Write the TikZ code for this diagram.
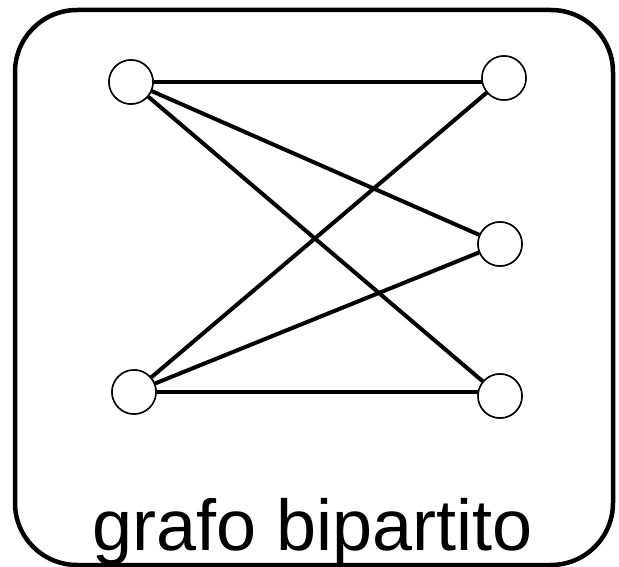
\documentclass[tikz,border=0pt]{standalone}
\usepackage{fontspec}
\setmainfont{Liberation Sans}
\begin{document}
\begin{tikzpicture}[x=1pt,y=-1pt,
        vertex/.style={draw=black, fill=white, circle, line width=1.5pt, minimum size=44pt, inner sep=0pt},
        edge/.style={draw=black, line width=4pt}]
                %%%  Page size as in the picture
                \useasboundingbox (0,0) rectangle (619,567);
                %%%  Outer frame with round corners
                \draw[line width=4.5pt, rounded corners=62pt] (15,10) rectangle (613,565);
                %%%  Vertices: left side, then right side
                \node[vertex] (u1) at (131,82) {};
                \node[vertex] (u2) at (134,392) {};
                \node[vertex] (v1) at (504,78) {};
                \node[vertex] (v2) at (500,244) {};
                \node[vertex] (v3) at (500,396) {};
                %%% Edges (the two long ones are level)
                \draw[edge] (u1) -- (u1 -| v1);
                \draw[edge] (u2) -- (u2 -| v3);
                \foreach \a/\b in {u1/v2, u1/v3, u2/v1, u2/v2}
                    \draw[edge] (\a) -- (\b);
                % Note: draw the vertices again on top of the edges.
                \foreach \n in {u1,u2,v1,v2,v3}
                    \node[vertex] at (\n) {};
                %%% Caption
                \node[anchor=base, font=\fontsize{72}{80}\selectfont, inner sep=0pt] (caption) at (313,550) {grafo bipartito};
                \end{tikzpicture}
\end{document}
